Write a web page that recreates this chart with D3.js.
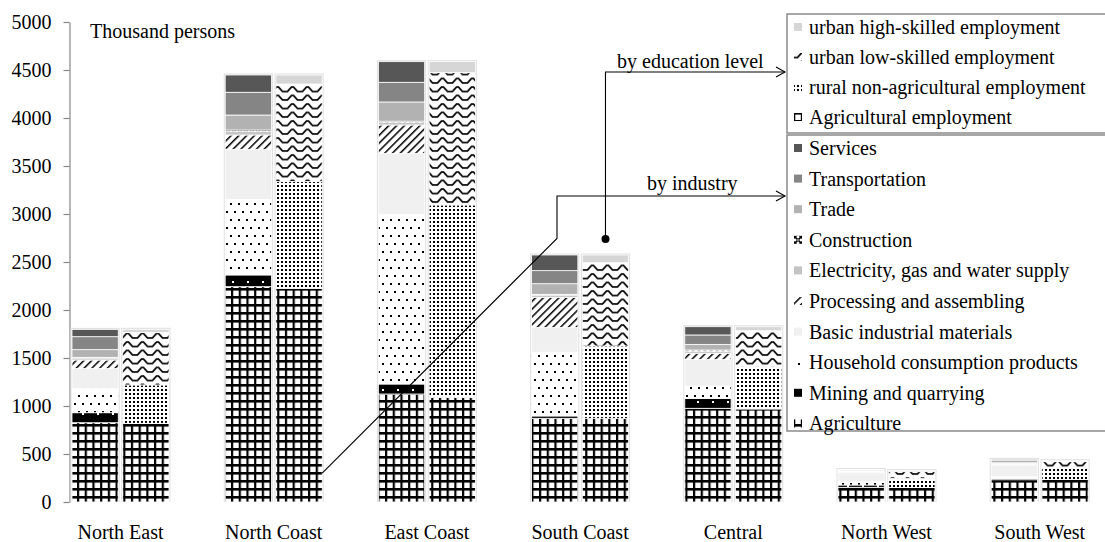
<!DOCTYPE html>
<html><head><meta charset="utf-8">
<script src="https://cdn.jsdelivr.net/npm/d3@7"></script>
<style>
html,body{margin:0;padding:0;background:#fff;}
svg text{font-family:"Liberation Serif","Times New Roman",serif;fill:#000;}
</style></head>
<body><svg id="c" width="1105" height="542"></svg>
<script>
// ---------- data ----------
const categories = ["North East","North Coast","East Coast","South Coast","Central","North West","South West"];
const yTicks = [0,500,1000,1500,2000,2500,3000,3500,4000,4500,5000];
const unitLabel = "Thousand persons";

// by industry (thousand persons), stacked bottom -> top
const agriculture    = [826, 2243, 1125, 872, 976, 153, 232];
const mining         = [104, 122, 104, 24, 104, 24, 14];
const household      = [254, 788, 1768, 663, 128, 35, 18];
const basicMaterials = [208, 521, 635, 260, 278, 93, 121];
const processing     = [87, 149, 295, 313, 63, 4, 5];
const electricity    = [18, 35, 25, 20, 22, 5, 8];
const construction   = [10, 17, 15, 11, 12, 2, 3];
const trade          = [80, 156, 200, 111, 59, 8, 15];
const transportation = [135, 237, 205, 136, 98, 8, 15];
const services       = [76, 180, 215, 163, 86, 8, 13];

// by education level
const agriEmployment = [820, 2226, 1090, 872, 969, 150, 236];
const ruralNonAgri   = [399, 1111, 2004, 753, 440, 97, 115];
const urbanLow       = [548, 1017, 1378, 868, 375, 69, 69];
const urbanHigh      = [32, 94, 115, 80, 42, 12, 10];

const industryNames = ["Agriculture","Mining and quarrying","Household consumption products","Basic industrial materials","Processing and assembling","Electricity, gas and water supply","Construction","Trade","Transportation","Services"];
const educationNames = ["Agricultural employment","rural non-agricultural employment","urban low-skilled employment","urban high-skilled employment"];
const annotationLabels = ["by education level","by industry"];

// ---------- setup ----------
const svg = d3.select("#c");
const defs = svg.append("defs");
const FS = 20;

function pat(id, w, h, tf){
  const p = defs.append("pattern").attr("id",id).attr("patternUnits","userSpaceOnUse")
    .attr("width",w).attr("height",h);
  if(tf) p.attr("patternTransform",tf);
  return p;
}
// grid (agriculture)
let p = pat("pGrid",7.7,8);
p.append("rect").attr("width",7.7).attr("height",8).attr("fill","#fff");
p.append("rect").attr("x",0).attr("width",2.2).attr("height",8).attr("fill","#000");
p.append("rect").attr("y",0).attr("width",7.7).attr("height",2.6).attr("fill","#000");
// mining
p = pat("pMining",15,12);
p.append("rect").attr("width",15).attr("height",12).attr("fill","#000");
p.append("rect").attr("x",7).attr("y",5).attr("width",2).attr("height",2).attr("fill","#fff");
// household
p = pat("pHouse",8,16);
p.append("rect").attr("width",8).attr("height",16).attr("fill","#fff");
p.append("rect").attr("x",2).attr("y",3).attr("width",2).attr("height",2).attr("fill","#000");
p.append("rect").attr("x",6).attr("y",11).attr("width",2).attr("height",2).attr("fill","#000");
// processing hatch
p = pat("pProc",5.5,5.5,"rotate(45)");
p.append("rect").attr("width",5.5).attr("height",5.5).attr("fill","#fff");
p.append("rect").attr("width",1.5).attr("height",5.5).attr("fill","#000");
// construction
p = pat("pCons",6,6);
p.append("rect").attr("width",6).attr("height",6).attr("fill","#fff");
p.append("path").attr("d","M0.5,0.5L5.5,5.5M5.5,0.5L0.5,5.5").attr("stroke","#000").attr("stroke-width",1.6);
// rural dense dots
p = pat("pRural",4,4);
p.append("rect").attr("width",4).attr("height",4).attr("fill","#fff");
p.append("rect").attr("x",1).attr("y",1).attr("width",2).attr("height",2).attr("fill","#000");
// wave
p = pat("pWave",15,8.5);
p.append("rect").attr("width",15).attr("height",8.5).attr("fill","#fff");
p.append("path").attr("d","M-1,6.5 L2.5,6.5 L6.5,2 L8.5,2 L12.5,6.5 L16,6.5").attr("fill","none").attr("stroke","#000").attr("stroke-width",1.7);

const industryFills = ["url(#pGrid)","url(#pMining)","url(#pHouse)","#f0f0f0","url(#pProc)","#c4c4c4","url(#pCons)","#b2b2b2","#858585","#575757"];
const educationFills = ["url(#pGrid)","url(#pRural)","url(#pWave)","#d6d6d6"];

// ---------- scales ----------
const y = d3.scaleLinear().domain([0,5000]).range([502,22]);
const step = 153.2, pi = 56.2/153.2;
const x0 = d3.scaleBand().domain(categories).range([43.9, 43.9+7*step]).paddingInner(pi).paddingOuter(pi/2);
const x1 = d3.scaleBand().domain(["industry","education"]).range([0,x0.bandwidth()]).paddingInner(0.0887).paddingOuter(0);

// ---------- axis ----------
const axisX = 69.5;
const ax = svg.append("g").attr("transform",`translate(${axisX},0)`)
  .call(d3.axisLeft(y).tickValues(yTicks).tickSize(6).tickSizeOuter(0).tickPadding(12).tickFormat(d3.format("d")));
ax.select(".domain").attr("stroke","#868686").attr("stroke-width",1.2);
ax.selectAll(".tick line").attr("stroke","#868686").attr("stroke-width",1.2);
ax.selectAll(".tick text").style("font-size",FS+"px").style("font-family","'Liberation Serif',serif").attr("fill","#000");

svg.append("text").attr("x",90).attr("y",37.5).style("font-size",FS+"px").text(unitLabel);

// ---------- bars ----------
const indSeries = [agriculture,mining,household,basicMaterials,processing,electricity,construction,trade,transportation,services];
const eduSeries = [agriEmployment,ruralNonAgri,urbanLow,urbanHigh];
const indRows = categories.map((c,i)=>{const o={cat:c}; industryNames.forEach((n,k)=>o[n]=indSeries[k][i]); return o;});
const eduRows = categories.map((c,i)=>{const o={cat:c}; educationNames.forEach((n,k)=>o[n]=eduSeries[k][i]); return o;});
const indStack = d3.stack().keys(industryNames)(indRows);
const eduStack = d3.stack().keys(educationNames)(eduRows);

function drawStack(stack, fills, key){
  const bx = d=>x0(d.data.cat)+x1(key);
  const bw = x1.bandwidth();
  const tops = stack[stack.length-1];
  svg.append("g").selectAll("rect").data(tops).join("rect")
    .attr("x",d=>bx(d)-1.5).attr("y",d=>y(d[1])-1.5)
    .attr("width",bw+3).attr("height",d=>y(0)-y(d[1])+1.5)
    .attr("fill","#e2e2e2");
  stack.forEach((s,k)=>{
    svg.append("g").selectAll("rect").data(s).join("rect")
      .attr("x",d=>bx(d)).attr("y",d=>y(d[1]))
      .attr("width",bw).attr("height",d=>Math.max(0,y(d[0])-y(d[1])))
      .attr("fill",fills[k]).attr("stroke","#fff").attr("stroke-width",0.8);
  });
}
drawStack(indStack, industryFills, "industry");
drawStack(eduStack, educationFills, "education");

// category labels
svg.append("g").selectAll("text").data(categories).join("text")
  .attr("x",d=>x0(d)+x0.bandwidth()/2).attr("y",539).attr("text-anchor","middle")
  .style("font-size",FS+"px").text(d=>d);

// ---------- legends ----------
const lgX = 787;
svg.append("rect").attr("x",lgX).attr("y",14).attr("width",340).attr("height",119)
  .attr("fill","#fff").attr("stroke","#8a8a8a").attr("stroke-width",1.5);
svg.append("rect").attr("x",lgX).attr("y",135).attr("width",340).attr("height",296)
  .attr("fill","#fff").attr("stroke","#8a8a8a").attr("stroke-width",1.5);

const eduLegend = educationNames.slice().reverse();
const eduLegendFills = educationFills.slice().reverse();
eduLegend.forEach((n,i)=>{
  const by = 34 + i*30;
  svg.append("rect").attr("x",794).attr("y",by-11).attr("width",8).attr("height",8).attr("fill",eduLegendFills[i]);
  svg.append("text").attr("x",809).attr("y",by).style("font-size",FS+"px").text(n);
});
const indLegend = industryNames.slice().reverse();
const indLegendFills = industryFills.slice().reverse();
indLegend.forEach((n,i)=>{
  const by = 155 + i*30.6;
  svg.append("rect").attr("x",794).attr("y",by-11).attr("width",8).attr("height",8).attr("fill",indLegendFills[i]);
  svg.append("text").attr("x",809).attr("y",by).style("font-size",FS+"px").text(n);
});

// ---------- annotations ----------
const scIdx = categories.indexOf("South Coast");
const dotX = x0("South Coast") + x1("education") + x1.bandwidth()/2;
const scTotal = d3.sum(eduSeries, s=>s[scIdx]);
const dotY = y(scTotal) - 16;
const arrowX = lgX - 2;
const eduLineY = 72, indLineY = 196;

function arrowHead(xx,yy){
  svg.append("path").attr("d",`M${xx-9},${yy-5} L${xx},${yy} L${xx-9},${yy+5}`)
    .attr("fill","none").attr("stroke","#000").attr("stroke-width",1.1);
}
svg.append("circle").attr("cx",dotX).attr("cy",dotY).attr("r",4).attr("fill","#000");
svg.append("path").attr("d",`M${dotX},${dotY} L${dotX},${eduLineY} L${arrowX},${eduLineY}`)
  .attr("fill","none").attr("stroke","#000").attr("stroke-width",1.1);
arrowHead(arrowX, eduLineY);
svg.append("text").attr("x",617).attr("y",eduLineY-4).style("font-size",FS+"px").text(annotationLabels[0]);

const startX = x0("North Coast") + x1("education") + x1.bandwidth();
const startY = y(300);
const kinkX = 557, kinkY = startY - (kinkX - startX);
svg.append("path").attr("d",`M${startX},${startY} L${kinkX},${kinkY} L${kinkX},${indLineY} L${arrowX},${indLineY}`)
  .attr("fill","none").attr("stroke","#000").attr("stroke-width",1.1);
arrowHead(arrowX, indLineY);
svg.append("text").attr("x",647).attr("y",indLineY-6).style("font-size",FS+"px").text(annotationLabels[1]);
</script></body></html>
